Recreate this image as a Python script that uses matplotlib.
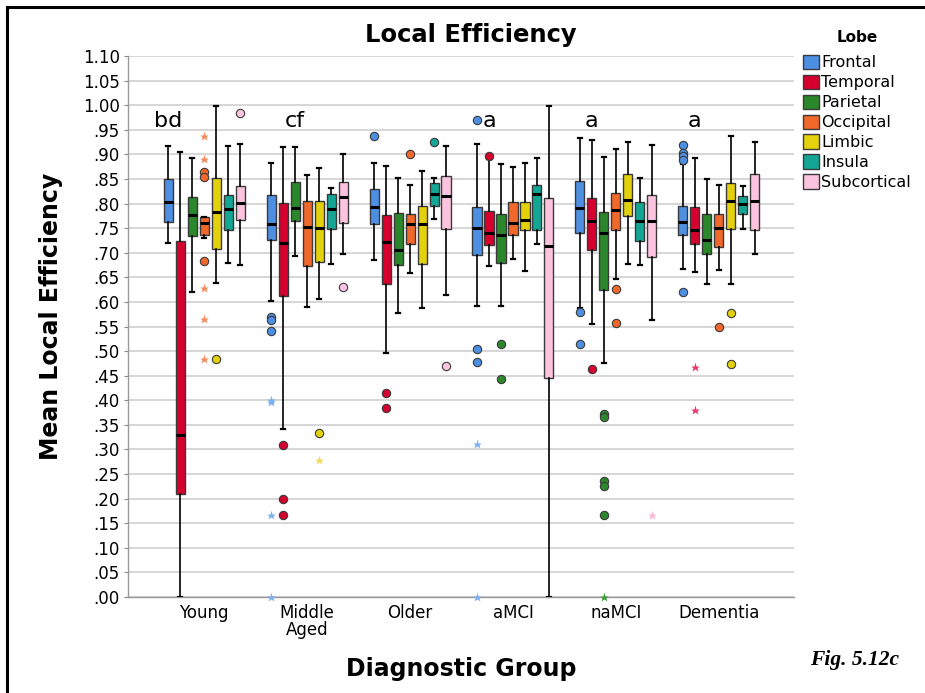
import matplotlib
matplotlib.use("Agg")
import matplotlib.pyplot as plt
from matplotlib.patches import Patch, Rectangle

groups = ["Young", "Middle\nAged", "Older", "aMCI", "naMCI", "Dementia"]
lobes = ["Frontal", "Temporal", "Parietal", "Occipital", "Limbic", "Insula", "Subcortical"]
colors = ["#4C8FE3", "#D5002E", "#2B872B", "#F0682A", "#E3D10E", "#13A695", "#FCC3DE"]
star_colors = ["#7DB0F0", "#E83A6A", "#3C9A3C", "#F5895C", "#EEDD50", "#40C0B0", "#FAB8D8"]

# five-number summaries per group: (whisker low, Q1, median, Q3, whisker high)
frontal = [(0.719, 0.763, 0.804, 0.849, 0.918), (0.602, 0.725, 0.759, 0.818, 0.882),
           (0.686, 0.759, 0.792, 0.830, 0.882), (0.591, 0.696, 0.751, 0.793, 0.921),
           (0.587, 0.740, 0.791, 0.846, 0.933), (0.667, 0.736, 0.762, 0.794, 0.880)]
temporal = [(0.000, 0.209, 0.330, 0.724, 0.905), (0.341, 0.612, 0.719, 0.801, 0.914),
            (0.497, 0.636, 0.721, 0.777, 0.876), (0.673, 0.715, 0.740, 0.785, 0.890),
            (0.555, 0.706, 0.764, 0.811, 0.930), (0.661, 0.718, 0.747, 0.793, 0.892)]
parietal = [(0.621, 0.735, 0.777, 0.813, 0.892), (0.694, 0.765, 0.790, 0.843, 0.914),
            (0.577, 0.676, 0.705, 0.781, 0.851), (0.591, 0.680, 0.737, 0.778, 0.880),
            (0.475, 0.625, 0.741, 0.783, 0.895), (0.637, 0.698, 0.726, 0.778, 0.849)]
occipital = [(0.729, 0.737, 0.760, 0.772, 0.772), (0.590, 0.672, 0.753, 0.806, 0.858),
             (0.658, 0.717, 0.758, 0.779, 0.837), (0.687, 0.736, 0.760, 0.803, 0.874),
             (0.647, 0.747, 0.786, 0.822, 0.910), (0.664, 0.711, 0.750, 0.778, 0.838)]
limbic = [(0.638, 0.707, 0.783, 0.851, 0.999), (0.605, 0.682, 0.750, 0.805, 0.873),
          (0.588, 0.677, 0.758, 0.794, 0.866), (0.663, 0.746, 0.767, 0.803, 0.882),
          (0.678, 0.774, 0.807, 0.861, 0.925), (0.637, 0.749, 0.805, 0.841, 0.938)]
insula = [(0.680, 0.747, 0.788, 0.817, 0.916), (0.678, 0.749, 0.788, 0.820, 0.831),
          (0.769, 0.796, 0.820, 0.841, 0.851), (0.717, 0.746, 0.819, 0.837, 0.892),
          (0.675, 0.723, 0.765, 0.803, 0.851), (0.749, 0.778, 0.799, 0.816, 0.836)]
subcortical = [(0.675, 0.766, 0.801, 0.835, 0.922), (0.698, 0.760, 0.813, 0.843, 0.901),
               (0.615, 0.748, 0.815, 0.856, 0.916), (0.000, 0.445, 0.714, 0.812, 0.999),
               (0.564, 0.692, 0.764, 0.818, 0.919), (0.697, 0.746, 0.805, 0.860, 0.926)]
stats = [frontal, temporal, parietal, occipital, limbic, insula, subcortical]

# outliers: (group index, lobe index, value)
circle_outliers = [
    (0, 3, 0.864), (0, 3, 0.853), (0, 3, 0.684), (0, 4, 0.484), (0, 6, 0.985),
    (1, 0, 0.569), (1, 0, 0.563), (1, 0, 0.540), (1, 1, 0.309), (1, 1, 0.199),
    (1, 1, 0.167), (1, 4, 0.334), (1, 6, 0.630),
    (2, 0, 0.938), (2, 1, 0.415), (2, 1, 0.384), (2, 3, 0.900), (2, 5, 0.926), (2, 6, 0.470),
    (3, 0, 0.970), (3, 0, 0.504), (3, 0, 0.477), (3, 1, 0.896), (3, 2, 0.515), (3, 2, 0.443),
    (4, 0, 0.580), (4, 0, 0.514), (4, 1, 0.463), (4, 2, 0.372), (4, 2, 0.366),
    (4, 2, 0.236), (4, 2, 0.226), (4, 2, 0.167), (4, 3, 0.627), (4, 3, 0.557),
    (5, 0, 0.920), (5, 0, 0.903), (5, 0, 0.897), (5, 0, 0.889), (5, 0, 0.620),
    (5, 3, 0.548), (5, 4, 0.577), (5, 4, 0.474),
]
star_outliers = [
    (0, 3, 0.937), (0, 3, 0.891), (0, 3, 0.628), (0, 3, 0.566), (0, 3, 0.484),
    (1, 0, 0.401), (1, 0, 0.396), (1, 0, 0.167), (1, 0, 0.000), (1, 4, 0.279),
    (3, 0, 0.311), (3, 0, 0.000),
    (4, 2, 0.000), (4, 6, 0.167),
    (5, 1, 0.468), (5, 1, 0.380),
]
annotations = [(0, 0, "bd"), (1, 2, "cf"), (3, 1, "a"), (4, 1, "a"), (5, 1, "a")]
annot_y = 0.968

yticks = [i * 0.05 for i in range(23)]
ytick_labels = []
for v in yticks:
    s = "%.2f" % v
    ytick_labels.append(s if v >= 0.999 else s[1:])

offset = 0.1165
width = 0.088

fig = plt.figure(figsize=(9.25, 6.93), dpi=100)
ax = fig.add_axes([128 / 925, 1 - 597 / 693, (794 - 128) / 925, (597 - 56) / 693])


def pos(g, j):
    return g + (j - 3) * offset


for j, lobe in enumerate(lobes):
    bx = []
    positions = []
    for g in range(len(groups)):
        lo, q1, med, q3, hi = stats[j][g]
        bx.append(dict(whislo=lo, q1=q1, med=med, q3=q3, whishi=hi, fliers=[]))
        positions.append(pos(g, j))
    ax.bxp(bx, positions=positions, widths=width, patch_artist=True, showfliers=False,
           capwidths=width * 0.45,
           boxprops=dict(facecolor=colors[j], edgecolor="#3a3a3a", linewidth=1.0),
           medianprops=dict(color="black", linewidth=2.2),
           whiskerprops=dict(color="black", linewidth=1.2),
           capprops=dict(color="black", linewidth=1.6), zorder=3)

for g, j, v in circle_outliers:
    ax.plot(pos(g, j), v, "o", ms=6, mfc=colors[j], mec="#3a3a3a", mew=0.8, zorder=4, clip_on=False)
for g, j, v in star_outliers:
    ax.plot(pos(g, j), v, "*", ms=6.5, mfc=star_colors[j], mec="none", zorder=4, clip_on=False)

for g, j, txt in annotations:
    ax.text(pos(g, j), annot_y, txt, ha="center", va="center", fontsize=16, zorder=5)

ax.set_xlim(-0.74, 5.73)
ax.set_ylim(0, 1.10)
ax.set_yticks(yticks)
ax.set_yticklabels(ytick_labels, fontsize=12)
ax.set_xticks(range(len(groups)))
ax.set_xticklabels(groups, fontsize=12, linespacing=0.95)
ax.tick_params(axis="x", length=0, pad=5)
ax.tick_params(axis="y", length=3, color="#888888", pad=3)
ax.yaxis.grid(True, color="#d3d3d3", linewidth=1.3, zorder=0)
ax.set_axisbelow(True)
for s in ["top", "right"]:
    ax.spines[s].set_visible(False)
for s in ["left", "bottom"]:
    ax.spines[s].set_color("#999999")
    ax.spines[s].set_linewidth(1.0)

ax.set_title("Local Efficiency", fontsize=17.5, fontweight="bold", pad=10, x=0.515)
ax.set_ylabel("Mean Local Efficiency", fontsize=17, fontweight="bold")
ax.yaxis.set_label_coords(-0.098, 0.518)
ax.set_xlabel("Diagnostic Group", fontsize=17, fontweight="bold", labelpad=13)

handles = [Patch(facecolor=c, edgecolor="#3a3a3a", linewidth=1.0) for c in colors]
leg = fig.legend(handles, lobes, loc="upper left", bbox_to_anchor=(803 / 925, 1 - 30 / 693),
                 frameon=False, fontsize=11.5, title="Lobe",
                 title_fontproperties=dict(weight="bold", size=11),
                 handlelength=1.0, handleheight=1.0, handletextpad=0.15,
                 labelspacing=0.27, borderaxespad=0, borderpad=0)
leg._legend_box.sep = 7

fig.text(855 / 925, 1 - 660 / 693, "Fig. 5.12c", ha="center", va="center",
         fontsize=15.5, fontweight="bold", fontstyle="italic", family="Liberation Serif")

fig.patches.append(Rectangle((7 / 925, -0.1), 1.2, 1 - 7 / 693 + 0.1, transform=fig.transFigure,
                             fill=False, edgecolor="black", linewidth=2.2, clip_on=False))

fig.savefig("out.png", dpi=100)
